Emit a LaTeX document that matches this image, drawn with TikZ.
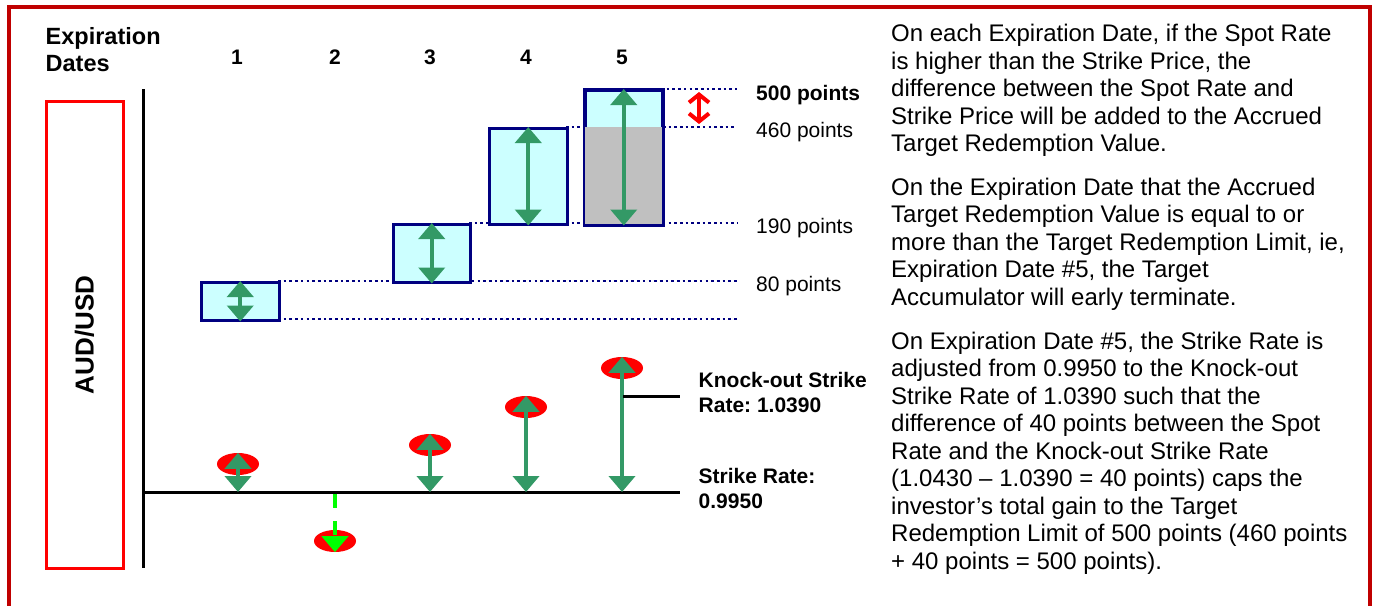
\documentclass[tikz,border=0pt]{standalone}
\usepackage{fontspec}
\setmainfont{Liberation Sans}
\usetikzlibrary{arrows.meta,shapes.geometric}
\definecolor{framered}{HTML}{C00000}
\definecolor{navy}{HTML}{000080}
\definecolor{cyanbox}{HTML}{CCFFFF}
\definecolor{greenarr}{HTML}{339966}
\definecolor{limegreen}{HTML}{00FF00}
\definecolor{grayfill}{HTML}{C0C0C0}
\frenchspacing
\begin{document}
\begin{tikzpicture}[x=1pt,y=-1pt,
  lbl/.style={inner sep=0pt, anchor=base west, align=left, font=\fontsize{21}{25}\selectfont},
  blbl/.style={inner sep=0pt, anchor=base west, align=left, font=\bfseries\fontsize{21}{25.5}\selectfont},
  para/.style={inner sep=0pt, anchor=base west, align=left, font=\fontsize{24}{27.5}\selectfont},
  box/.style={draw=navy, fill=cyanbox, line width=2.5pt, inner sep=0pt, anchor=north west},
  dotline/.style={navy, line width=2.5pt, dash pattern=on 2.6pt off 3.1pt},
  garrow/.style={greenarr, line width=4pt, {Triangle[width=26pt,length=16pt]}-{Triangle[width=26pt,length=16pt]}},
  redell/.style={ellipse, fill=red, minimum width=42pt, minimum height=22pt, inner sep=0pt},
  blk/.style={black, line width=3pt},
]
\useasboundingbox (0,0) rectangle (1375,605);
% outer frame
\draw[framered, line width=3.5pt] (9,608) -- (9,7) -- (1370,7) -- (1370,608);

% header (base anchor = last line)
\node[inner sep=0pt, anchor=base west, align=left, font=\bfseries\fontsize{23.5}{27.5}\selectfont] (hdr) at (45.5,71.6) {Expiration\\Dates};
\node[blbl, anchor=base] (n1) at (237,64) {1};
\node[blbl, anchor=base] (n2) at (335,64) {2};
\node[blbl, anchor=base] (n3) at (430,64) {3};
\node[blbl, anchor=base] (n4) at (526,64) {4};
\node[blbl, anchor=base] (n5) at (622,64) {5};

% AUD/USD box
\node[draw=red, line width=3pt, minimum width=77pt, minimum height=467pt, inner sep=0pt] (pairbox) at (84.5,334.5) {};
\node[rotate=90, inner sep=0pt, font=\bfseries\fontsize{26}{30}\selectfont] (pair) at (84.5,335) {AUD/USD};

% axes
\coordinate (axtop) at (143,89);
\coordinate (axbot) at (143,568);
\coordinate (sl) at (143,492);
\coordinate (sr) at (680,492);
\draw[blk] (axtop) -- (axbot);
\draw[blk] (sl) -- (sr);

% dotted level lines
\coordinate (d500) at (737,89);
\coordinate (d460) at (737,127);
\coordinate (d190) at (737,223);
\coordinate (d80) at (737,281);
\coordinate (d0) at (737,319);
\draw[dotline] (566,127) -- (d460);
\draw[dotline] (469,223) -- (d190);
\draw[dotline] (278,281) -- (d80);
\draw[dotline] (278,319) -- (d0);
\draw[dotline] (661,89) -- (d500);

% boxes
\node[box, minimum width=78pt, minimum height=38pt] (b1) at (200,281) {};
\node[box, minimum width=77pt, minimum height=58pt] (b3) at (392,223) {};
\node[box, minimum width=78pt, minimum height=96pt] (b4) at (488,127) {};
\node[box, minimum width=77pt, minimum height=134pt] (b5) at (584,89) {};
\fill[grayfill] (b5.south west) rectangle (b5.east |- d460);
\draw[navy, line width=2.5pt] (b5.south west) rectangle (b5.north east);

% green arrows in boxes
\draw[garrow] (b1.north) -- (b1.south);
\draw[garrow] (b3.north) -- (b3.south);
\draw[garrow] (b4.north) -- (b4.south);
\draw[garrow] (b5.north) -- (b5.south);

% red double arrow
\coordinate (ra) at (699,92);
\coordinate (rb) at (699,124);
\draw[red, line width=4pt, {Straight Barb[length=8pt,width=20pt]}-{Straight Barb[length=8pt,width=20pt]}] (ra) -- (rb);

% level labels
\node[blbl] (l500) at (756,100) {500 points};
\node[lbl] (l460) at (756,137.5) {460 points};
\node[lbl] (l190) at (756,233) {190 points};
\node[lbl] (l80) at (756,291.5) {80 points};

% lower part: ellipses and arrows
\node[redell] (e1) at (238,464) {};
\node[redell] (e2) at (335,541) {};
\node[redell] (e3) at (430,445) {};
\node[redell] (e4) at (526,407) {};
\node[redell] (e5) at (622,368) {};
\draw[garrow] (e1.north) -- (e1.north |- sl);
\draw[garrow] (e3.north) -- (e3.north |- sl);
\draw[garrow] (e4.north) -- (e4.north |- sl);
\draw[garrow] (e5.north) -- (e5.north |- sl);
\coordinate (s2) at (335,494);
\draw[limegreen, line width=4pt, dash pattern=on 14pt off 13pt, -{Triangle[width=26pt,length=16pt]}] (s2) -- (e2.south);

% knock-out strike line
\coordinate (ko1) at (623,396);
\coordinate (ko2) at (680,396);
\draw[blk] (ko1) -- (ko2);

\node[blbl] (kolbl) at (698.5,412.5) {Knock-out Strike\\Rate: 1.0390};
\node[blbl] (srlbl) at (698.5,508.5) {Strike Rate:\\0.9950};

% right text (base anchor = last line)
\node[para] (p1) at (891,151.5) {On each Expiration Date, if the Spot Rate\\is higher than the Strike Price, the\\difference between the Spot Rate and\\Strike Price will be added to the Accrued\\Target Redemption Value.};
\node[para] (p2) at (891,305) {On the Expiration Date that the Accrued\\Target Redemption Value is equal to or\\more than the Target Redemption Limit, ie,\\Expiration Date \#5, the Target\\Accumulator will early terminate.};
\node[para] (p3) at (891,569.3) {On Expiration Date \#5, the Strike Rate is\\adjusted from 0.9950 to the Knock-out\\Strike Rate of 1.0390 such that the\\difference of 40 points between the Spot\\Rate and the Knock-out Strike Rate\\(1.0430 – 1.0390 = 40 points) caps the\\investor’s total gain to the Target\\Redemption Limit of 500 points (460 points\\+ 40 points = 500 points).};
\end{tikzpicture}
\end{document}
